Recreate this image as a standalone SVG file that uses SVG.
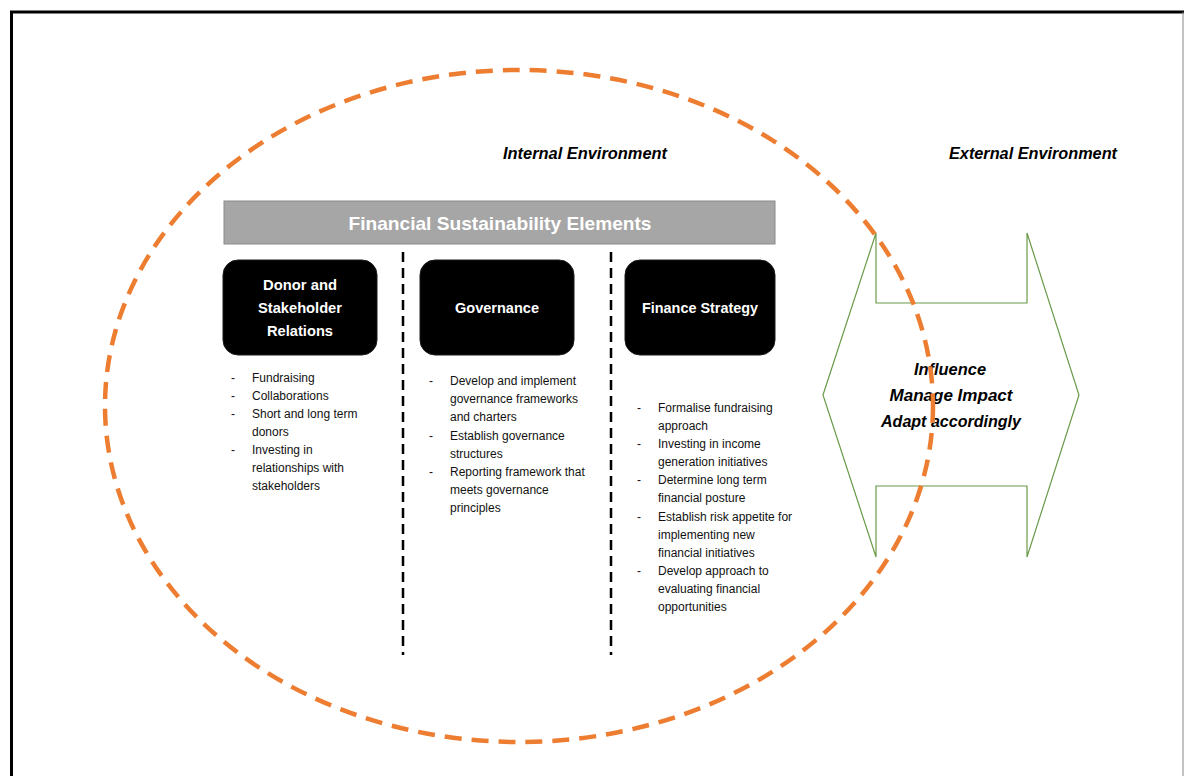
<svg xmlns="http://www.w3.org/2000/svg" width="1186" height="776" viewBox="0 0 1186 776">
<style>
.frame{stroke:#000;stroke-width:3;fill:none}
.box{fill:#000;stroke:#1a1a1a;stroke-width:1}
.title{font-family:"Liberation Sans",Arial,sans-serif;font-weight:bold;font-size:15px;fill:#fff;text-anchor:middle}
.hdr{font-family:"Liberation Sans",Arial,sans-serif;font-weight:bold;font-size:19px;fill:#fff;text-anchor:middle}
.env{font-family:"Liberation Sans",Arial,sans-serif;font-weight:bold;font-style:italic;font-size:16px;fill:#000;text-anchor:middle}
.inf{font-family:"Liberation Sans",Arial,sans-serif;font-weight:bold;font-style:italic;font-size:17px;fill:#000;text-anchor:middle}
.bul{font-family:"Liberation Sans",Arial,sans-serif;font-size:12px;fill:#111}
.sep{stroke:#000;stroke-width:2.5;stroke-dasharray:10 6;fill:none}
.ell{stroke:#ED7D31;stroke-width:4.5;stroke-dasharray:17 10;fill:none}
.arrow{stroke:#6a9a48;stroke-width:1.2;fill:none}
</style>
<rect width="1186" height="776" fill="#fff"/>
<g id="frame">
<line class="frame" x1="10" y1="12" x2="1184" y2="12"/>
<line class="frame" x1="11.5" y1="11" x2="11.5" y2="776"/>
<line x1="1183" y1="12" x2="1183" y2="776" stroke="#888" stroke-width="1"/>
</g>
<g id="labels">
<text class="env" x="585" y="159" textLength="164" lengthAdjust="spacingAndGlyphs">Internal Environment</text>
<text class="env" x="1033" y="159" textLength="168" lengthAdjust="spacingAndGlyphs">External Environment</text>
</g>
<g id="header">
<rect x="224" y="201" width="551" height="43" fill="#A6A6A6" stroke="#8a8a8a" stroke-width="1"/>
<text class="hdr" x="500" y="230" textLength="303" lengthAdjust="spacingAndGlyphs">Financial Sustainability Elements</text>
</g>
<g id="connectors">
<line class="sep" x1="403" y1="252" x2="403" y2="655"/>
<line class="sep" x1="611" y1="252" x2="611" y2="655"/>
</g>
<g id="donor">
<rect class="box" x="223" y="260" width="154" height="95" rx="15"/>
<text class="title" x="300" y="290" textLength="74" lengthAdjust="spacingAndGlyphs">Donor and</text>
<text class="title" x="300" y="313" textLength="84" lengthAdjust="spacingAndGlyphs">Stakeholder</text>
<text class="title" x="300" y="336" textLength="66" lengthAdjust="spacingAndGlyphs">Relations</text>
<g class="bul">
<text x="231" y="382">-</text><text x="252" y="382">Fundraising</text>
<text x="231" y="400">-</text><text x="252" y="400">Collaborations</text>
<text x="231" y="418">-</text><text x="252" y="418">Short and long term</text>
<text x="252" y="436">donors</text>
<text x="231" y="454">-</text><text x="252" y="454">Investing in</text>
<text x="252" y="472">relationships with</text>
<text x="252" y="490">stakeholders</text>
</g>
</g>
<g id="governance">
<rect class="box" x="420" y="260" width="154" height="95" rx="15"/>
<text class="title" x="497" y="313" textLength="84" lengthAdjust="spacingAndGlyphs">Governance</text>
<g class="bul">
<text x="429" y="385">-</text><text x="450" y="385">Develop and implement</text>
<text x="450" y="403">governance frameworks</text>
<text x="450" y="421">and charters</text>
<text x="429" y="440">-</text><text x="450" y="440">Establish governance</text>
<text x="450" y="458">structures</text>
<text x="429" y="476">-</text><text x="450" y="476">Reporting framework that</text>
<text x="450" y="494">meets governance</text>
<text x="450" y="512">principles</text>
</g>
</g>
<g id="finance">
<rect class="box" x="625" y="260" width="150" height="95" rx="15"/>
<text class="title" x="700" y="313" textLength="116" lengthAdjust="spacingAndGlyphs">Finance Strategy</text>
<g class="bul">
<text x="637" y="412">-</text><text x="658" y="412">Formalise fundraising</text>
<text x="658" y="430">approach</text>
<text x="637" y="448">-</text><text x="658" y="448">Investing in income</text>
<text x="658" y="466">generation initiatives</text>
<text x="637" y="484">-</text><text x="658" y="484">Determine long term</text>
<text x="658" y="502">financial posture</text>
<text x="637" y="521">-</text><text x="658" y="521">Establish risk appetite for</text>
<text x="658" y="539">implementing new</text>
<text x="658" y="557">financial initiatives</text>
<text x="637" y="575">-</text><text x="658" y="575">Develop approach to</text>
<text x="658" y="593">evaluating financial</text>
<text x="658" y="611">opportunities</text>
</g>
</g>
<g id="external-arrow">
<polygon class="arrow" points="823,395 876,233 876,303 1027,303 1027,233 1079,395 1027,557 1027,486 876,486 876,557"/>
<text class="inf" x="950" y="375" textLength="72" lengthAdjust="spacingAndGlyphs">Influence</text>
<text class="inf" x="951" y="401" textLength="123" lengthAdjust="spacingAndGlyphs">Manage Impact</text>
<text class="inf" x="951" y="427" textLength="140" lengthAdjust="spacingAndGlyphs">Adapt accordingly</text>
</g>
<g id="environment-boundary">
<ellipse class="ell" cx="519" cy="406" rx="414" ry="336"/>
</g>
</svg>
